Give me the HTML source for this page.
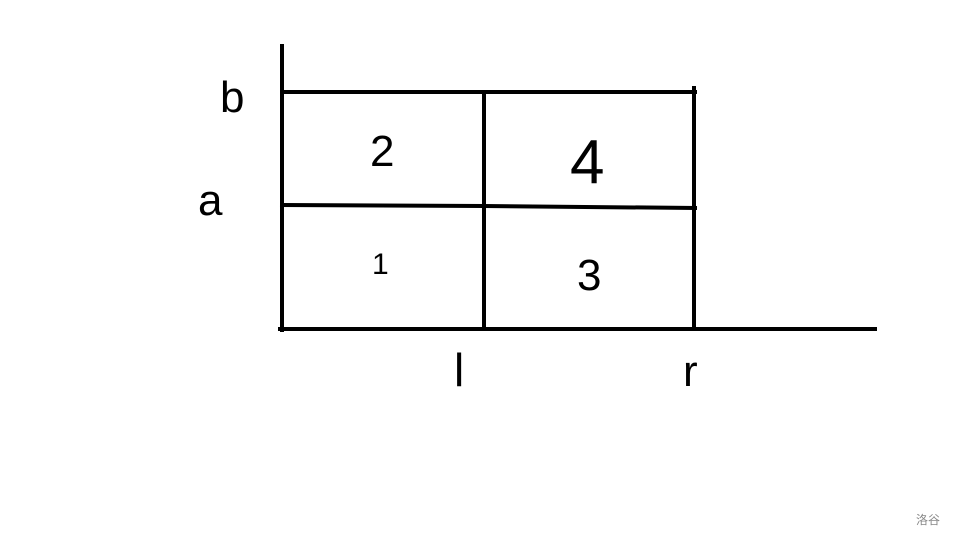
<!DOCTYPE html>
<html><head><meta charset="utf-8"><style>
html,body{margin:0;padding:0;background:#fff;}
svg{display:block;}
text{font-family:"Liberation Sans","Noto Sans CJK SC",sans-serif;fill:#000;}
</style></head><body>
<svg width="960" height="540" viewBox="0 0 960 540" xmlns="http://www.w3.org/2000/svg">
<rect width="960" height="540" fill="#fff"/>
<g stroke="#000" stroke-width="4" fill="none" stroke-linecap="square">
<path d="M282 46 L282 330"/>
<path d="M282 92 L695 92"/>
<path d="M282 205 L484 206 L695 208"/>
<path d="M280 329 L875 329"/>
<path d="M484 93 L484 329"/>
<path d="M694 88 L694 329"/>
</g>
<text x="220" y="112" font-size="44">b</text>
<text x="198" y="215" font-size="44">a</text>
<text x="370" y="166" font-size="44">2</text>
<text x="570" y="183" font-size="62">4</text>
<text x="372" y="274" font-size="30">1</text>
<text x="577" y="290" font-size="44">3</text>
<text x="454" y="386" font-size="46">l</text>
<text x="683" y="386" font-size="44">r</text>
<text x="916" y="524" font-size="12" style="fill:#888">洛谷</text>
</svg>
</body></html>
